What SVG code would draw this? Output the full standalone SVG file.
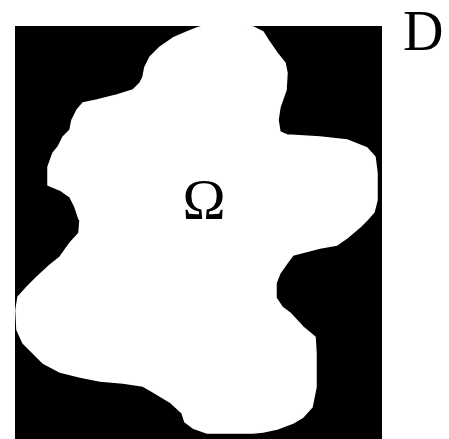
<svg xmlns="http://www.w3.org/2000/svg" width="449" height="439" viewBox="0 0 449 439">
<style>
.lbl{font-family:"Liberation Serif","Times New Roman",serif;fill:#000}
</style>
<rect x="0" y="0" width="449" height="439" fill="#fff"/>
<g id="domain">
<rect x="15" y="26" width="367" height="413" fill="#000"/>
</g>
<g id="omega-region">
<polygon fill="#fff" stroke="#fff" stroke-width="1.5" stroke-linejoin="round" points="207,25 232,25 253,27 263,32 268,40 277,53 285,63 287,73 286,90 280,107 278,120 280,132 287,135 320,137 347,140 367,148 375,157 377,173 377,200 374,212 367,220 360,227 347,238 337,245 320,248 293,255 287,263 280,273 276,283 276,298 282,307 290,313 303,327 315,337 316,353 316,387 312,407 303,417 293,423 277,429 263,432 253,433 207,433 193,428 185,422 182,413 170,402 150,390 143,386 123,383 100,381 80,377 60,372 43,363 33,353 23,343 17,330 16,310 18,297 27,287 37,277 50,265 60,257 70,243 79,233 80,220 79,219 75,207 70,197 60,190 48,185 48,167 53,153 58,147 63,137 70,130 72,120 77,110 83,103 97,100 117,95 133,90 140,83 143,77 145,67 150,57 160,47 173,38 187,32 197,28"/>
</g>
<g id="label-omega"><text class="lbl" x="204" y="219" font-size="58" text-anchor="middle">Ω</text></g>
<g id="label-D"><text class="lbl" x="403" y="50" font-size="56">D</text></g>
<g id="connectors"/>
</svg>
